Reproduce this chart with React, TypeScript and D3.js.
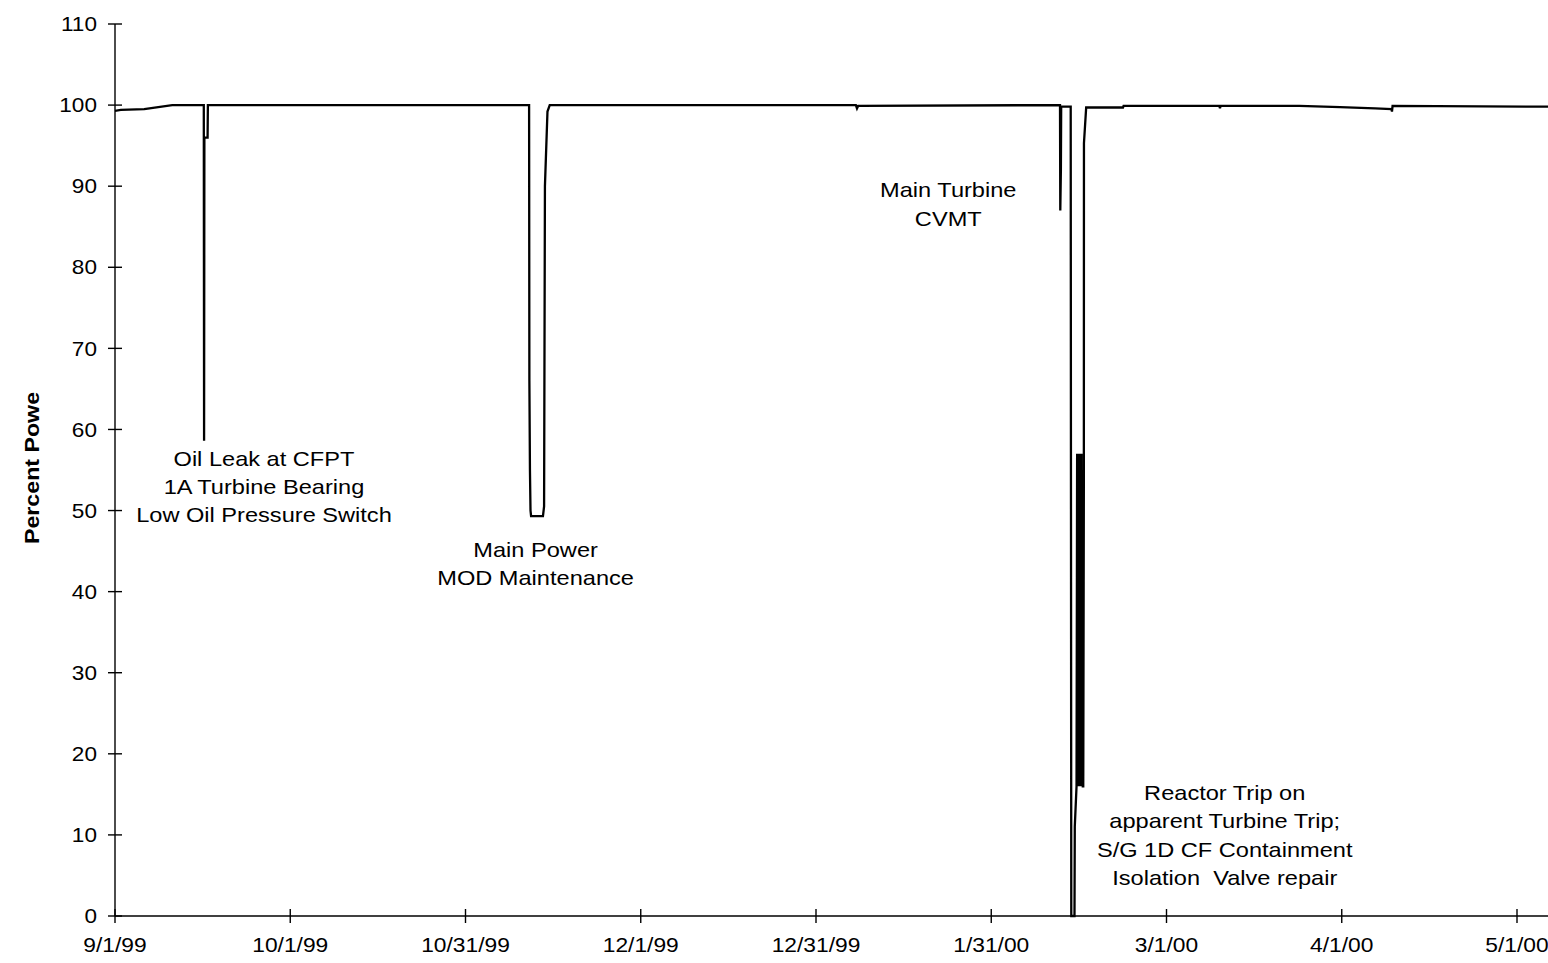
import React from 'react';
import * as d3 from 'd3';

// power history: days after 9/1/99 and percent power
const dayOffsets = [
  0, 1, 5, 9.8, 15.2, 15.25, 15.3, 15.85, 15.9,
  71.25, 71.3, 71.4, 71.5, 71.6, 73.7, 73.9, 74.05, 74.5, 74.9,
  128.05, 128.25, 128.45,
  163.77, 163.82, 163.92, 163.97, 165.6, 165.7, 166.25, 166.3, 166.6,
  166.7, 166.77, 166.85, 166.92, 167.0, 167.07, 167.15, 167.22, 167.3,
  167.37, 167.45, 167.52, 167.6, 167.67, 167.75, 167.85, 167.87, 168.25,
  174.55, 174.65, 191.35, 191.46, 191.57,
  205.5, 212.7, 218.7, 221.5, 221.6, 221.7, 248.3,
];
const powerValues = [
  99.3, 99.4, 99.5, 100, 100, 58.6, 96, 96, 100,
  100, 66, 55, 50, 49.3, 49.3, 50.5, 90, 99.2, 100,
  100, 99.6, 99.9,
  100, 87, 92, 99.8, 99.8, 0, 0, 11, 16,
  57, 16, 57, 16, 56, 16, 57, 17, 56,
  16, 57, 17, 55, 16, 16, 52.8, 95.3, 99.7,
  99.7, 99.9, 99.9, 99.6, 99.9,
  99.9, 99.75, 99.6, 99.5, 99.2, 99.9, 99.8,
];

const yTicks = [0, 10, 20, 30, 40, 50, 60, 70, 80, 90, 100, 110];
const xTickLabels = ['9/1/99', '10/1/99', '10/31/99', '12/1/99', '12/31/99', '1/31/00', '3/1/00', '4/1/00', '5/1/00'];

// annotation text, placed at (day offset, percent) of the first line
const notes = [
  { day: 25.5, pct: 56.4, lines: ['Oil Leak at CFPT', '1A Turbine Bearing', 'Low Oil Pressure Switch'] },
  { day: 72.4, pct: 45.2, lines: ['Main Power', 'MOD Maintenance'] },
  { day: 144.4, pct: 89.5, lines: ['Main Turbine', 'CVMT'] },
  { day: 192.3, pct: 15.2, lines: ['Reactor Trip on', 'apparent Turbine Trip;', 'S/G 1D CF Containment', 'Isolation  Valve repair'] },
];

const W = 1548;
const H = 963;
const FONT = '"Liberation Sans", Arial, sans-serif';

const parse = d3.timeParse('%m/%d/%y');
const start = parse('09/01/99') as Date;
const toDate = (d: number) => new Date(start.getTime() + d * 864e5);

export default function App() {
  const tickDates = xTickLabels.map((s) => parse(s) as Date);
  const endDate = toDate(248.3);
  // the scan's axis puts its monthly ticks at an even spacing
  const step = (1517 - 115) / (tickDates.length - 1);
  const x = d3
    .scaleTime()
    .domain([...tickDates, endDate])
    .range([...tickDates.map((_, i) => 115 + i * step), W]);
  const y = d3.scaleLinear().domain([0, 110]).range([916, 24]);

  const pts = dayOffsets.map((d, i) => [toDate(d), powerValues[i]] as [Date, number]);
  const line = d3
    .line<[Date, number]>()
    .x((d) => x(d[0]))
    .y((d) => y(d[1]));

  return (
    <svg width={W} height={H} style={{ position: 'absolute', left: 0, top: 0, background: '#fff' }} fontFamily={FONT}>
      {/* y axis */}
      <line x1={115} x2={115} y1={y(110)} y2={y(0)} stroke="#000" strokeWidth={1.4} />
      {yTicks.map((t) => (
        <g key={t}>
          <line x1={108} x2={122} y1={y(t)} y2={y(t)} stroke="#000" strokeWidth={1.4} />
          <text transform={`translate(97,${y(t)}) scale(1.13,1)`} textAnchor="end" dy="0.36em" fontSize={20}>
            {t}
          </text>
        </g>
      ))}
      {/* x axis */}
      <line x1={115} x2={W} y1={y(0)} y2={y(0)} stroke="#000" strokeWidth={1.4} />
      {tickDates.map((d, i) => (
        <g key={xTickLabels[i]}>
          <line x1={x(d)} x2={x(d)} y1={y(0) - 7} y2={y(0) + 7} stroke="#000" strokeWidth={1.4} />
          <text transform={`translate(${x(d)},945) scale(1.14,1)`} textAnchor="middle" dy="0.36em" fontSize={20}>
            {xTickLabels[i]}
          </text>
        </g>
      ))}
      <text
        transform={`translate(32,468) rotate(-90) scale(1.16,1)`}
        textAnchor="middle"
        dy="0.36em"
        fontSize={20}
        fontWeight="bold"
      >
        Percent Powe
      </text>
      <path d={line(pts) ?? ''} fill="none" stroke="#000" strokeWidth={2.3} strokeLinejoin="miter" />
      {notes.map((n, i) => (
        <g key={i}>
          {n.lines.map((l, j) => (
            <text
              key={j}
              transform={`translate(${x(toDate(n.day))},${y(n.pct) + j * 28.3}) scale(1.18,1)`}
              textAnchor="middle"
              dy="0.36em"
              fontSize={20}
              style={{ whiteSpace: 'pre' }}
            >
              {l}
            </text>
          ))}
        </g>
      ))}
    </svg>
  );
}
